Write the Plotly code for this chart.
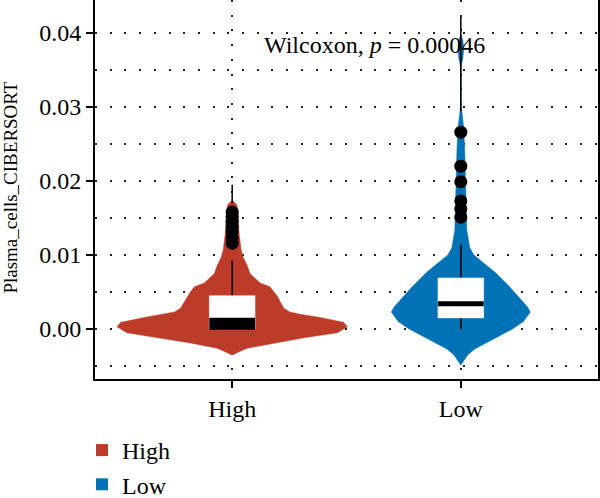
import plotly.graph_objects as go

# ---------------- data ----------------
groups = ["High", "Low"]
colors = ["#BC3C29", "#0072B5"]

# violin profiles: value levels and half-widths (in category units)
high_prof_y = [-0.0035, -0.0026, -0.0019, -0.0012, -0.0005, 0.0003, 0.0009, 0.0016,
               0.0020, 0.0023, 0.0028, 0.0035, 0.0045, 0.0050, 0.0057, 0.0062,
               0.0075, 0.0086, 0.0097, 0.0107, 0.0130, 0.0157, 0.0168, 0.0174]
high_prof_w = [0.0, 0.065, 0.183, 0.313, 0.461, 0.504, 0.487, 0.378,
               0.296, 0.252, 0.226, 0.213, 0.196, 0.183, 0.165, 0.122,
               0.078, 0.065, 0.048, 0.039, 0.030, 0.026, 0.020, 0.0]

low_prof_y = [-0.0049, -0.0043, -0.0035, -0.0027, -0.0019, -0.0010, 0.0000, 0.0010,
              0.0023, 0.0030, 0.0039, 0.0057, 0.0076, 0.0089, 0.0100, 0.0110,
              0.0134, 0.0160, 0.0200, 0.0242, 0.0270, 0.0290, 0.0300, 0.0355,
              0.0366, 0.0378, 0.0390, 0.0398]
low_prof_w = [0.0, 0.013, 0.030, 0.061, 0.109, 0.165, 0.226, 0.274,
              0.304, 0.291, 0.265, 0.213, 0.152, 0.100, 0.057, 0.039,
              0.026, 0.024, 0.022, 0.017, 0.013, 0.0065, 0.0013, 0.0013,
              0.009, 0.013, 0.009, 0.0]

prof_y = [high_prof_y, low_prof_y]
prof_w = [high_prof_w, low_prof_w]

# boxplot statistics
q1 = [0.0000, 0.0015]
median = [0.0007, 0.0034]
q3 = [0.0045, 0.0069]
whisk_lo = [0.0000, 0.0000]
whisk_hi = [0.0093, 0.0114]

# outliers
high_out = [0.0158, 0.0152, 0.0145, 0.0138, 0.0131, 0.0123, 0.0116]
low_out = [0.0266, 0.0220, 0.0199, 0.0173, 0.0162, 0.0151]
outliers = [high_out, low_out]

# thin tail segments
tail_lo = [0.0170, 0.0294]
tail_hi = [0.0195, 0.0422]

y_ticks = [0.00, 0.01, 0.02, 0.03, 0.04]
y_ticklabels = ["0.00", "0.01", "0.02", "0.03", "0.04"]

y_title = "Plasma_cells_CIBERSORT"
stat_text = "Wilcoxon, <i>p</i> = 0.00046"

# ---------------- style ----------------
FONT = "Liberation Serif"
box_half = 0.1
median_width = [12, 5]

fig = go.Figure()

for i, g in enumerate(groups):
    xc = i + 1
    ys = prof_y[i]
    ws = prof_w[i]
    xs = [xc - w for w in ws] + [xc + w for w in ws[::-1]]
    yy = ys + ys[::-1]
    fig.add_trace(go.Scatter(x=xs, y=yy, mode="lines", fill="toself",
                             fillcolor=colors[i], line=dict(color=colors[i], width=0.5),
                             showlegend=False, hoverinfo="skip"))

for i, g in enumerate(groups):
    xc = i + 1
    fig.add_trace(go.Scatter(x=[xc, xc], y=[tail_lo[i], tail_hi[i]], mode="lines",
                             line=dict(color="black", width=1.5), showlegend=False, hoverinfo="skip"))
    fig.add_trace(go.Scatter(x=[xc, xc], y=[q3[i], whisk_hi[i]], mode="lines",
                             line=dict(color="black", width=1.5), showlegend=False, hoverinfo="skip"))
    fig.add_trace(go.Scatter(x=[xc, xc], y=[whisk_lo[i], q1[i]], mode="lines",
                             line=dict(color="black", width=1.5), showlegend=False, hoverinfo="skip"))
    fig.add_trace(go.Scatter(x=[xc - box_half, xc + box_half, xc + box_half, xc - box_half, xc - box_half],
                             y=[q1[i], q1[i], q3[i], q3[i], q1[i]], mode="lines", fill="toself",
                             fillcolor="white", line=dict(color="white", width=0.5),
                             showlegend=False, hoverinfo="skip"))
    fig.add_trace(go.Scatter(x=[xc - box_half, xc + box_half], y=[median[i], median[i]], mode="lines",
                             line=dict(color="black", width=median_width[i]), showlegend=False, hoverinfo="skip"))
    fig.add_trace(go.Scatter(x=[xc] * len(outliers[i]), y=outliers[i], mode="markers",
                             marker=dict(color="black", size=13), showlegend=False, hoverinfo="skip"))

for i, g in enumerate(groups):
    fig.add_trace(go.Scatter(x=[None], y=[None], mode="markers", name=g,
                             marker=dict(symbol="square", size=16, color=colors[i])))

fig.add_annotation(x=1.13, y=0.0384, xref="x", yref="y", text=stat_text, showarrow=False,
                   xanchor="left", yanchor="middle", font=dict(family=FONT, size=24, color="black"))

fig.add_annotation(x=-84 / 503, y=0.505, xref="paper", yref="paper", text=y_title, showarrow=False,
                   textangle=-90, xanchor="center", yanchor="middle",
                   font=dict(family=FONT, size=19, color="black"))

grid_dash = "2px,12.7px"
fig.update_layout(
    width=600, height=498,
    margin=dict(l=95, r=2, t=0, b=119, autoexpand=False),
    paper_bgcolor="white", plot_bgcolor="white",
    font=dict(family=FONT, size=24, color="black"),
    showlegend=True,
    legend=dict(x=82 / 600, xref="container", y=1 - 428 / 498, yref="container",
                xanchor="left", yanchor="top", font=dict(family=FONT, size=24, color="black"),
                tracegroupgap=0, bgcolor="rgba(0,0,0,0)", itemsizing="constant"),
    xaxis=dict(range=[0.4, 2.6], tickvals=[1, 2], ticktext=groups, showline=True, mirror=True,
               linecolor="black", linewidth=2, ticks="outside", ticklen=7, tickwidth=1.5,
               tickcolor="black", showgrid=True, gridcolor="#222", gridwidth=1.8, griddash=grid_dash,
               zeroline=False, automargin=False, tickfont=dict(family=FONT, size=24, color="black")),
    yaxis=dict(range=[-0.00676, 0.04446], tickvals=y_ticks, ticktext=y_ticklabels, showline=True,
               mirror=True, linecolor="black", linewidth=2, ticks="outside", ticklen=7, tickwidth=1.5,
               tickcolor="black", showgrid=True, gridcolor="#222", gridwidth=1.8, griddash=grid_dash,
               zeroline=False, automargin=False, tickfont=dict(family=FONT, size=24, color="black"),
               minor=dict(dtick=0.005, tick0=0, showgrid=True, gridcolor="#222", gridwidth=1.8,
                          griddash=grid_dash, ticks="")),
)

fig.write_html("out.html")
